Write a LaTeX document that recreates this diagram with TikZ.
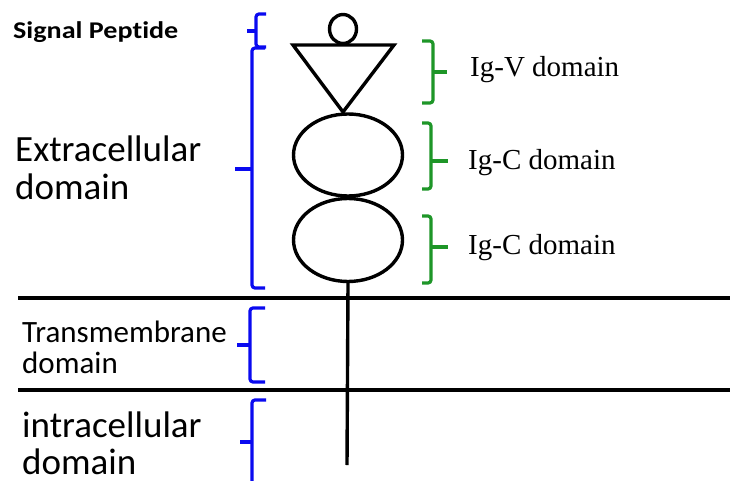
\documentclass[tikz,border=0pt]{standalone}
\usepackage{fontspec}
\setmainfont{Liberation Serif}
\newfontfamily\calib[Ligatures={NoCommon,NoRare}]{Carlito}
\usetikzlibrary{shapes.geometric}
\definecolor{bblue}{RGB}{10,10,240}
\definecolor{bgreen}{RGB}{30,150,40}
\newcommand\vbrace[7]{%
  \draw[brc,#1] (#3,#5) -- (#2,#5) -- (#2,#7) -- (#3,#7);
  \draw[brc,#1] (#2,#6) -- (#4,#6);}
\begin{document}
\begin{tikzpicture}[x=1pt,y=-1pt,
  shapeline/.style={draw=black,line width=3.4pt,inner sep=0pt},
  blk/.style={line width=3.4pt,black},
  brc/.style={line width=3.2pt,rounded corners=3pt},
  lbl/.style={anchor=base west,inner sep=0pt},
  biglbl/.style={lbl,font=\calib\fontsize{37}{38}\selectfont},
  midlbl/.style={lbl,font=\calib\fontsize{31}{31}\selectfont},
  iglbl/.style={lbl,font=\fontsize{29}{30}\selectfont}]
\useasboundingbox (0,0) rectangle (730,481);
\clip (0,0) rectangle (730,481);
\fill[white] (0,0) rectangle (730,481);

% membrane lines
\coordinate (m1l) at (18,298); \coordinate (m1r) at (731,298);
\coordinate (m2l) at (18,390); \coordinate (m2r) at (731,390);
\draw[blk] (m1l) -- (m1r);
\draw[blk] (m2l) -- (m2r);

% protein
\node[ellipse,shapeline,minimum width=27pt,minimum height=29pt] (sp) at (343,29) {};
\coordinate (tl) at (293,45); \coordinate (tr) at (394,45); \coordinate (tap) at (343,112);
\draw[blk,line join=miter] (tl) -- (tr) -- (tap) -- cycle;
\node[ellipse,shapeline,minimum width=109pt,minimum height=82pt] (e1) at (348,155) {};
\node[ellipse,shapeline,minimum width=109pt,minimum height=83pt] (e2) at (348,240) {};
\coordinate (stemend) at (347,465);
\draw[blk] (e2.south) -- (stemend);

% blue braces
\vbrace{bblue}{256}{266}{247}{14}{31}{47}
\vbrace{bblue}{252}{265}{235}{48}{169}{288}
\vbrace{bblue}{250}{265}{237}{308}{345}{382}
\vbrace{bblue}{252}{266}{240}{400}{442}{486}
% green braces
\vbrace{bgreen}{433}{422}{447}{41}{72}{103}
\vbrace{bgreen}{431}{422}{448}{123}{161}{189}
\vbrace{bgreen}{431}{422}{448}{216}{247}{283}

% labels
\node[lbl,font=\calib\bfseries\fontsize{24}{24}\selectfont] (sig) at (13,39) {\scalebox{1.17}[1]{Signal Peptide}};
\node[biglbl] (ext1) at (15,162) {Extracellular};
\node[biglbl] (ext2) at (15,200) {domain};
\node[midlbl] (tm1) at (22,342) {Transmembrane};
\node[midlbl] (tm2) at (22,373) {domain};
\node[biglbl] (in1) at (22,437) {intracellular};
\node[biglbl] (in2) at (22,474) {domain};
\node[iglbl] (igv) at (470,77) {Ig-V domain};
\node[iglbl] (igc1) at (468,170) {Ig-C domain};
\node[iglbl] (igc2) at (468,254) {Ig-C domain};
\end{tikzpicture}
\end{document}
